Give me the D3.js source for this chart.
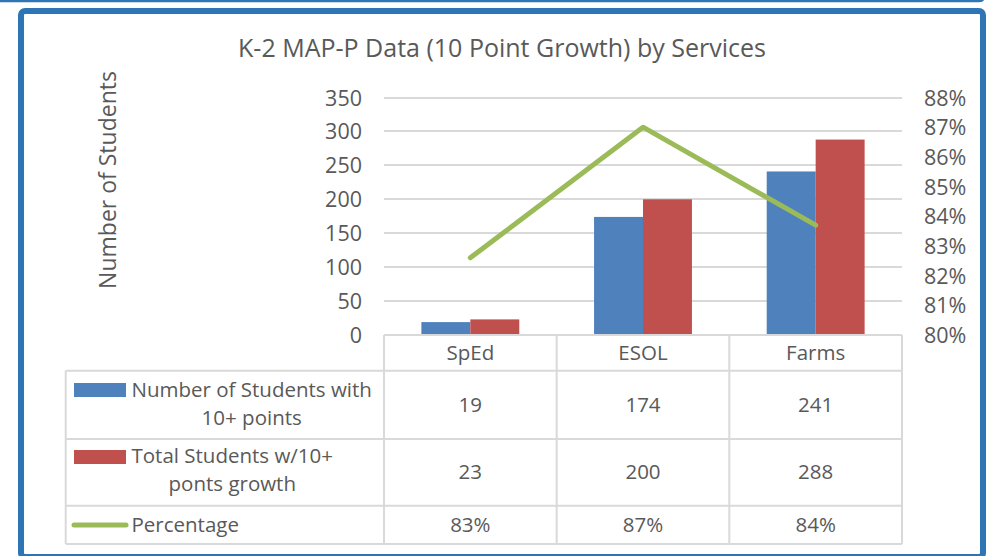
<!DOCTYPE html>
<html>
<head>
<meta charset="utf-8">
<script src="https://cdn.jsdelivr.net/npm/d3@7"></script>
<style>
  html, body { margin: 0; padding: 0; background: #fff; }
  svg { display: block; }
  text { font-family: "Open Sans", sans-serif; fill: #595959; }
</style>
</head>
<body>
<svg id="chart" width="991" height="556"></svg>
<script>
const categories = ["SpEd", "ESOL", "Farms"];
const seriesNames = ["Number of Students with 10+ points", "Total Students w/10+ ponts growth", "Percentage"];
const studentsWith10 = [19, 174, 241];
const totalStudents = [23, 200, 288];
const percentage = [0.826, 0.870, 0.837];
const leftTicks = [0, 50, 100, 150, 200, 250, 300, 350];
const rightTicks = [0.80, 0.81, 0.82, 0.83, 0.84, 0.85, 0.86, 0.87, 0.88];
const legendLines = [["Number of Students with", "10+ points"], ["Total Students w/10+", "ponts growth"], ["Percentage"]];

const colors = { blue: "#4F81BD", red: "#C0504D", green: "#9BBB59", grid: "#D9D9D9", frame: "#2E75B6", text: "#595959" };

const svg = d3.select("#chart");

// frame
svg.append("path")
  .attr("d", "M0,1 H979 Q984,1 984,-4")
  .attr("fill", "none").attr("stroke", colors.frame).attr("stroke-width", 2.5);
svg.append("rect")
  .attr("x", 21).attr("y", 11).attr("width", 962).attr("height", 546)
  .attr("rx", 4).attr("ry", 4)
  .attr("fill", "#fff").attr("stroke", colors.frame).attr("stroke-width", 6);

const plotL = 384, plotR = 902, plotT = 97.5, plotB = 335;

const x = d3.scaleBand().domain(categories).range([plotL, plotR]).paddingInner(0).paddingOuter(0);
const bw = x.bandwidth();
const x1 = d3.scaleBand().domain(["a", "b"]).range([bw * 0.2165, bw * 0.7835]);
const yL = d3.scaleLinear().domain([0, 350]).range([plotB, plotT]);
const yR = d3.scaleLinear().domain([0.80, 0.88]).range([plotB, plotT]);

// title
svg.append("text").attr("x", 502).attr("y", 57).attr("text-anchor", "middle")
  .style("font-size", "25px").text("K-2 MAP-P Data (10 Point Growth) by Services");

// y axis title
svg.append("text").attr("transform", "translate(116,180) rotate(-90)").attr("text-anchor", "middle")
  .style("font-size", "23px").text("Number of Students");

// gridlines
svg.append("g").selectAll("line").data(leftTicks.slice(1)).join("line")
  .attr("x1", plotL).attr("x2", plotR)
  .attr("y1", d => Math.round(yL(d))).attr("y2", d => Math.round(yL(d)))
  .attr("stroke", colors.grid).attr("stroke-width", 2);

// left axis
const axL = svg.append("g").attr("transform", `translate(${plotL},0)`)
  .call(d3.axisLeft(yL).tickValues(leftTicks).tickSize(0).tickPadding(22));
axL.select(".domain").remove();
axL.selectAll("text").style("font-size", "21.5px").style("font-family", "Open Sans").attr("fill", colors.text).attr("dy", "0.35em");

// right axis
const axR = svg.append("g").attr("transform", `translate(${plotR},0)`)
  .call(d3.axisRight(yR).tickValues(rightTicks).tickSize(0).tickPadding(22).tickFormat(d3.format(".0%")));
axR.select(".domain").remove();
axR.selectAll("text").style("font-size", "21.5px").style("font-family", "Open Sans").attr("fill", colors.text).attr("dy", "0.35em");

// bars
const barData = [];
categories.forEach((c, i) => {
  barData.push({ cat: c, s: "a", v: studentsWith10[i], color: colors.blue });
  barData.push({ cat: c, s: "b", v: totalStudents[i], color: colors.red });
});
svg.append("g").selectAll("rect").data(barData).join("rect")
  .attr("x", d => x(d.cat) + x1(d.s))
  .attr("width", x1.bandwidth())
  .attr("y", d => yL(d.v))
  .attr("height", d => yL(0) - yL(d.v))
  .attr("fill", d => d.color);

// line
const line = d3.line().x((d, i) => x(categories[i]) + bw / 2).y(d => yR(d));
svg.append("path").datum(percentage).attr("d", line)
  .attr("fill", "none").attr("stroke", colors.green).attr("stroke-width", 5)
  .attr("stroke-linecap", "round").attr("stroke-linejoin", "round");

// data table
const tbl = svg.append("g");
const tableL = 65.7;
const rowY = [335, 370.7, 439, 505.7, 544];
const gl = (x1_, y1_, x2_, y2_) => tbl.append("line").attr("x1", x1_).attr("y1", y1_).attr("x2", x2_).attr("y2", y2_)
  .attr("stroke", colors.grid).attr("stroke-width", 2);
gl(plotL, rowY[0], plotR, rowY[0]);
rowY.slice(1).forEach(y => gl(tableL, y, plotR, y));
gl(tableL, rowY[1], tableL, rowY[4]);
const colEdges = [plotL].concat(categories.map(c => x(c) + bw));
colEdges.forEach(cx => gl(cx, rowY[0], cx, rowY[4]));

const fs = "20.5px";
// header
tbl.selectAll("text.hdr").data(categories).join("text").attr("class", "hdr")
  .attr("x", d => x(d) + bw / 2).attr("y", 359.5).attr("text-anchor", "middle")
  .style("font-size", fs).text(d => d);

const fmtPct = d3.format(".0%");
const rows = [
  { vals: studentsWith10.map(String), y: 412 },
  { vals: totalStudents.map(String), y: 479 },
  { vals: percentage.map(fmtPct), y: 532 }
];
rows.forEach(r => {
  tbl.append("g").selectAll("text").data(r.vals).join("text")
    .attr("x", (d, i) => x(categories[i]) + bw / 2).attr("y", r.y).attr("text-anchor", "middle")
    .style("font-size", fs).text(d => d);
});

// legend cells
const legX = 131.5;
const legBase = [[396.5, 425], [463, 491], [531.5]];
legendLines.forEach((lines, i) => {
  const t1 = tbl.append("text").attr("x", legX).attr("y", legBase[i][0]).style("font-size", fs).text(lines[0]);
  if (lines.length > 1) {
    const w = t1.node().getComputedTextLength();
    tbl.append("text").attr("x", legX + w / 2).attr("y", legBase[i][1]).attr("text-anchor", "middle")
      .style("font-size", fs).text(lines[1]);
  }
});
tbl.append("rect").attr("x", 74).attr("y", 383).attr("width", 52).attr("height", 14).attr("fill", colors.blue);
tbl.append("rect").attr("x", 74).attr("y", 450).attr("width", 52).attr("height", 14).attr("fill", colors.red);
tbl.append("line").attr("x1", 74).attr("x2", 126).attr("y1", 525).attr("y2", 525)
  .attr("stroke", colors.green).attr("stroke-width", 5).attr("stroke-linecap", "round");
</script>
</body>
</html>
